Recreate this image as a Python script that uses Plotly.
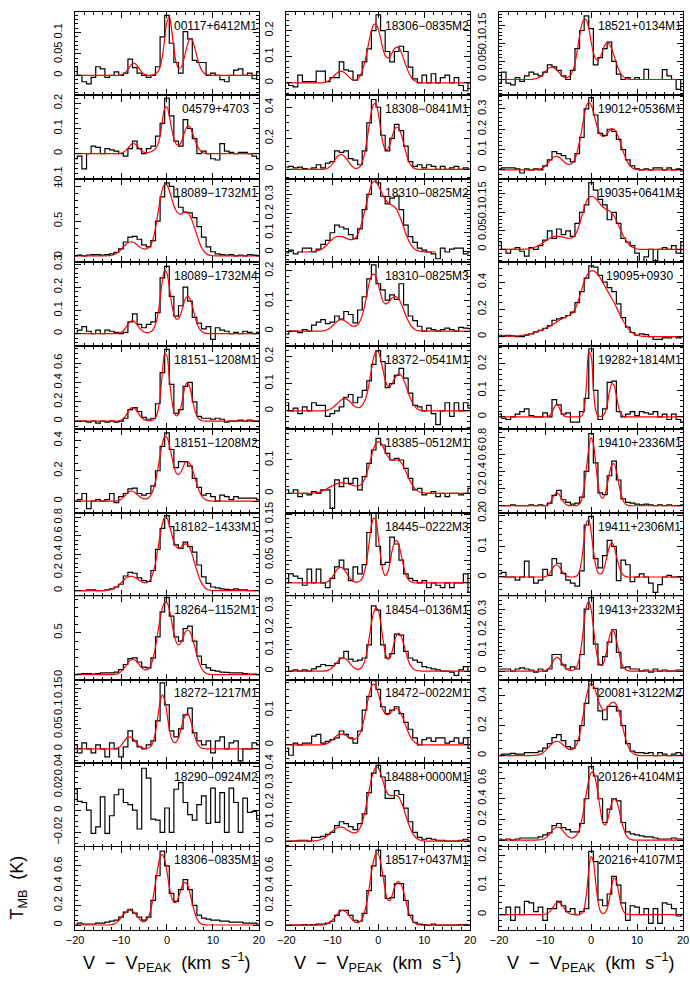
import plotly.graph_objects as go

# ---------------- velocity grids (km/s) ----------------
CHANNELS = [-20, -19, -18, -17, -16, -15, -14, -13, -12, -11, -10, -9, -8, -7, -6, -5, -4, -3, -2, -1,
            0, 1, 2, 3, 4, 5, 6, 7, 8, 9, 10, 11, 12, 13, 14, 15, 16, 17, 18, 19, 20]
FIT_VEL = [-20, -19.5, -19, -18.5, -18, -17.5, -17, -16.5, -16, -15.5,
           -15, -14.5, -14, -13.5, -13, -12.5, -12, -11.5, -11, -10.5,
           -10, -9.5, -9, -8.5, -8, -7.5, -7, -6.5, -6, -5.5,
           -5, -4.5, -4, -3.5, -3, -2.5, -2, -1.5, -1, -0.5,
           0, 0.5, 1, 1.5, 2, 2.5, 3, 3.5, 4, 4.5,
           5, 5.5, 6, 6.5, 7, 7.5, 8, 8.5, 9, 9.5,
           10, 10.5, 11, 11.5, 12, 12.5, 13, 13.5, 14, 14.5,
           15, 15.5, 16, 16.5, 17, 17.5, 18, 18.5, 19, 19.5,
           20]

# ---------------- source names ----------------
NAMES_COL1 = ["00117+6412M1", "04579+4703", "18089\u22121732M1", "18089\u22121732M4", "18151\u22121208M1",
              "18151\u22121208M2", "18182\u22121433M1", "18264\u22121152M1", "18272\u22121217M1",
              "18290\u22120924M2", "18306\u22120835M1"]
NAMES_COL2 = ["18306\u22120835M2", "18308\u22120841M1", "18310\u22120825M2", "18310\u22120825M3",
              "18372\u22120541M1", "18385\u22120512M1", "18445\u22120222M3", "18454\u22120136M1",
              "18472\u22120022M1", "18488+0000M1", "18517+0437M1"]
NAMES_COL3 = ["18521+0134M1", "19012+0536M1", "19035+0641M1", "19095+0930", "19282+1814M1",
              "19410+2336M1", "19411+2306M1", "19413+2332M1", "20081+3122M2", "20126+4104M1",
              "20216+4107M1"]

# ---------------- observed spectra (T_MB, K) at CHANNELS ----------------
H_00117 = [0.02, 0.0, -0.015, -0.02, -0.005, 0.02, 0.015, -0.005, 0.0, 0.008,
           0.0, 0.005, 0.038, 0.018, 0.005, 0.0, -0.005, 0.0, 0.02, 0.09,
           0.14, 0.075, 0.03, 0.005, 0.102, 0.085, 0.035, 0.03, 0.03, 0.0,
           0.005, 0.0, -0.01, -0.015, 0.0, 0.012, 0.015, 0.0, 0.005, -0.008, 0.008]
H_04579 = [-0.02, -0.01, -0.06, 0.0, 0.03, 0.025, 0.0, 0.02, 0.015, 0.01,
           0.0, -0.01, 0.02, 0.05, 0.02, 0.0, 0.02, 0.03, 0.07, 0.12,
           0.22, 0.15, 0.05, 0.03, 0.135, 0.1, 0.06, 0.0, 0.01, 0.0,
           -0.02, -0.025, 0.04, 0.01, 0.005, 0.0, 0.005, 0.005, 0.0, -0.01, -0.02]
H_18089M1 = [0.0, 0.01, 0.0, 0.01, 0.02, 0.02, 0.01, 0.02, 0.03, 0.05,
             0.1, 0.2, 0.27, 0.28, 0.24, 0.16, 0.13, 0.22, 0.5, 0.85,
             1.05, 1.0, 0.85, 0.7, 0.63, 0.62, 0.55, 0.42, 0.27, 0.13,
             0.06, 0.03, 0.02, 0.01, 0.02, 0.0, 0.01, 0.0, 0.02, 0.01, 0.0]
H_18089M4 = [0.0, 0.015, 0.03, 0.01, 0.0, 0.015, 0.0, 0.015, 0.01, 0.005,
             0.0, 0.005, 0.05, 0.085, 0.04, 0.025, 0.04, 0.05, 0.09, 0.24,
             0.29, 0.16, 0.075, 0.12, 0.2, 0.14, 0.07, 0.045, 0.02, 0.03,
             -0.025, 0.025, 0.015, 0.01, 0.0, 0.005, 0.0, 0.01, 0.005, 0.0, 0.005]
H_18151M1 = [0.0, 0.0, 0.0, -0.01, 0.0, -0.02, 0.0, -0.01, 0.0, -0.01,
             0.0, 0.03, 0.12, 0.14, 0.1, 0.04, 0.02, 0.03, 0.18, 0.5,
             0.74, 0.38, 0.08, 0.12, 0.36, 0.4, 0.2, 0.05, 0.03, 0.03,
             0.02, 0.03, 0.02, -0.01, 0.0, 0.0, 0.01, 0.0, 0.01, 0.0, 0.0]
H_18151M2 = [0.0, 0.01, 0.05, -0.05, 0.0, 0.01, 0.0, 0.01, 0.05, -0.01,
             0.03, 0.05, 0.08, 0.085, 0.05, 0.04, 0.05, 0.1, 0.2, 0.36,
             0.45, 0.34, 0.22, 0.26, 0.26, 0.23, 0.15, 0.09, 0.04, 0.05,
             0.03, 0.0, 0.04, 0.03, 0.01, 0.03, 0.02, 0.02, 0.02, 0.02, 0.01]
H_18182 = [0.0, 0.0, 0.0, 0.01, 0.01, 0.0, 0.0, 0.01, 0.02, 0.04,
           0.07, 0.16, 0.2, 0.19, 0.14, 0.11, 0.1, 0.22, 0.45, 0.68,
           0.82, 0.7, 0.5, 0.46, 0.53, 0.48, 0.42, 0.28, 0.15, 0.08,
           0.04, 0.03, 0.02, 0.015, 0.01, 0.02, 0.01, 0.01, 0.0, 0.0, 0.0]
H_18264 = [0.0, 0.005, 0.01, 0.01, 0.005, 0.01, 0.02, 0.02, 0.02, 0.03,
           0.06, 0.12, 0.19, 0.2, 0.15, 0.09, 0.08, 0.2, 0.45, 0.75,
           0.92, 0.7, 0.45, 0.4, 0.55, 0.58, 0.4, 0.22, 0.12, 0.08,
           0.05, 0.04, 0.03, 0.025, 0.02, 0.02, 0.02, 0.01, 0.005, 0.005, 0.0]
H_18272 = [0.01, -0.01, 0.015, 0.0, -0.01, 0.01, 0.0, -0.02, 0.015, 0.0,
           -0.02, 0.005, 0.045, 0.02, 0.005, 0.0, 0.01, 0.02, 0.07, 0.165,
           0.11, 0.045, 0.03, 0.05, 0.085, 0.102, 0.04, 0.02, 0.01, 0.02,
           -0.01, 0.02, 0.03, 0.0, 0.015, 0.02, -0.03, 0.0, 0.0, 0.015, 0.01]
H_18290 = [0.019, 0.008, 0.007, 0.0, -0.021, -0.015, 0.012, -0.021, -0.005, 0.014,
           0.019, 0.007, 0.005, 0.0, -0.017, 0.038, 0.029, -0.008, -0.009, -0.02,
           0.002, -0.02, 0.019, 0.025, 0.007, -0.004, -0.009, 0.005, 0.013, -0.012,
           0.02, -0.011, 0.016, -0.02, 0.02, 0.007, -0.02, 0.011, -0.002, -0.001, -0.008]
H_18306M1 = [0.0, 0.02, 0.01, 0.01, 0.01, 0.02, 0.02, 0.03, 0.04, 0.05,
             0.08, 0.13, 0.16, 0.12, 0.08, 0.05, 0.08, 0.25, 0.5, 0.75,
             0.6, 0.32, 0.24, 0.36, 0.46, 0.36, 0.2, 0.1, 0.07, 0.06,
             0.05, 0.05, 0.04, 0.04, 0.03, 0.03, 0.03, 0.02, 0.02, 0.02, 0.01]
H_18306M2 = [0.0, -0.01, -0.015, 0.03, 0.005, 0.005, 0.005, 0.045, 0.045, 0.005,
             0.02, 0.02, 0.08, 0.05, 0.045, 0.01, 0.03, 0.08, 0.13, 0.2,
             0.26, 0.2, 0.12, 0.08, 0.12, 0.14, 0.12, 0.06, 0.015, 0.0,
             0.03, 0.0, 0.035, 0.0, 0.02, 0.03, 0.0, 0.02, -0.01, -0.03, 0.0]
H_18308 = [0.015, 0.02, 0.01, 0.015, 0.005, 0.0, 0.01, 0.03, 0.01, 0.04,
           0.05, 0.12, 0.11, 0.12, 0.07, 0.06, 0.03, 0.12, 0.3, 0.45,
           0.4, 0.22, 0.12, 0.2, 0.29, 0.25, 0.15, 0.05, 0.02, 0.03,
           0.01, 0.03, 0.02, 0.0, 0.02, 0.0, 0.01, 0.02, 0.0, 0.01, 0.0]
H_18310M2 = [-0.005, 0.01, -0.01, 0.0, 0.02, 0.02, 0.0, 0.015, 0.04, 0.06,
             0.1, 0.14, 0.13, 0.12, 0.09, 0.07, 0.12, 0.22, 0.3, 0.38,
             0.36, 0.29, 0.25, 0.28, 0.29, 0.22, 0.14, 0.08, 0.05, 0.02,
             0.01, 0.0, -0.01, -0.035, 0.02, 0.0, 0.015, 0.02, 0.02, -0.01, 0.0]
H_18310M3 = [-0.01, 0.0, 0.0, -0.005, 0.005, 0.0, 0.02, 0.03, 0.038, 0.025,
             0.03, 0.05, 0.04, 0.065, 0.055, 0.027, 0.07, 0.114, 0.173, 0.22,
             0.157, 0.137, 0.103, 0.12, 0.105, 0.157, 0.087, 0.05, 0.035, 0.016,
             0.0, 0.01, 0.005, 0.0, 0.005, 0.01, 0.005, 0.0, 0.012, 0.01, 0.008]
H_18372 = [0.03, 0.0, 0.01, -0.01, 0.015, 0.0, 0.03, 0.02, 0.02, -0.02,
           -0.01, 0.0, 0.015, 0.05, 0.06, 0.03, 0.05, 0.075, 0.11, 0.17,
           0.22, 0.18, 0.085, 0.1, 0.13, 0.155, 0.12, 0.065, 0.02, 0.015,
           0.0, 0.02, -0.01, -0.05, 0.0, 0.03, -0.02, 0.03, 0.0, 0.03, 0.01]
H_18385 = [0.01, 0.0, 0.01, -0.01, 0.0, -0.005, 0.005, 0.0, 0.01, 0.01,
           -0.045, 0.04, 0.02, 0.045, 0.03, 0.045, 0.01, 0.05, 0.09, 0.13,
           0.165, 0.145, 0.12, 0.1, 0.105, 0.1, 0.075, 0.045, 0.01, 0.015,
           -0.005, 0.0, 0.005, -0.01, 0.0, -0.01, 0.0, 0.0, -0.005, 0.0, 0.015]
H_18445 = [0.0, 0.02, 0.015, 0.01, -0.005, 0.03, 0.0, 0.03, 0.0, -0.01,
           0.01, 0.035, 0.05, 0.03, 0.005, 0.035, 0.02, 0.04, 0.11, 0.155,
           0.08, 0.04, 0.045, 0.1, 0.085, 0.05, 0.02, 0.01, 0.005, 0.0,
           0.005, -0.01, 0.0, -0.005, -0.01, 0.0, -0.01, 0.0, 0.0, 0.02, -0.02]
H_18454 = [0.02, 0.0, 0.005, 0.0, 0.005, 0.0, 0.01, 0.02, 0.03, 0.025,
           0.025, 0.035, 0.06, 0.09, 0.055, 0.045, 0.05, 0.06, 0.12, 0.3,
           0.28, 0.12, 0.06, 0.08, 0.17, 0.165, 0.09, 0.06, 0.05, 0.04,
           0.02, 0.015, 0.01, 0.005, 0.0, 0.0, -0.005, -0.02, 0.005, 0.02, 0.0]
H_18472 = [-0.01, -0.03, 0.005, 0.0, 0.005, 0.005, 0.025, 0.03, 0.005, 0.01,
           0.015, 0.02, 0.04, 0.03, 0.02, 0.005, 0.04, 0.1, 0.14, 0.185,
           0.16, 0.11, 0.09, 0.1, 0.11, 0.09, 0.065, 0.045, 0.02, 0.0,
           0.015, 0.02, 0.01, 0.02, 0.02, 0.005, 0.01, 0.02, 0.005, 0.02, -0.01]
H_18488 = [0.0, 0.0, 0.0, 0.005, 0.005, 0.0, 0.02, 0.02, 0.025, 0.035,
           0.045, 0.08, 0.1, 0.09, 0.075, 0.06, 0.09, 0.14, 0.25, 0.35,
           0.39, 0.33, 0.22, 0.22, 0.26, 0.24, 0.17, 0.1, 0.045, 0.02,
           0.01, 0.015, 0.01, 0.005, 0.005, 0.0, 0.0, 0.0, 0.005, 0.01, 0.0]
H_18517 = [0.0, 0.0, 0.0, 0.0, 0.005, 0.0, 0.005, 0.01, 0.01, 0.02,
           0.04, 0.1, 0.15, 0.15, 0.1, 0.05, 0.04, 0.12, 0.35, 0.6,
           0.76, 0.5, 0.27, 0.28, 0.42, 0.42, 0.25, 0.1, 0.03, 0.01,
           0.005, 0.0, 0.01, 0.0, 0.0, 0.0, 0.0, 0.0, 0.005, 0.005, 0.0]
H_18521 = [-0.01, 0.02, -0.01, -0.015, 0.005, -0.005, 0.01, 0.02, 0.015, 0.01,
           0.02, 0.04, 0.035, 0.025, 0.01, 0.0, 0.025, 0.085, 0.135, 0.175,
           0.14, 0.04, 0.06, 0.085, 0.103, 0.05, 0.015, 0.0, 0.005, 0.0,
           0.005, 0.0, 0.028, 0.0, 0.0, 0.0, 0.027, 0.01, 0.0, -0.027, 0.0]
H_19012 = [0.005, 0.01, 0.01, 0.01, 0.005, -0.015, 0.005, 0.0, 0.005, 0.0,
           0.02, 0.05, 0.09, 0.08, 0.07, 0.055, 0.04, 0.08, 0.16, 0.3,
           0.355, 0.27, 0.18, 0.17, 0.2, 0.19, 0.15, 0.1, 0.05, 0.02,
           0.005, 0.0, 0.005, 0.0, 0.01, 0.01, 0.0, 0.01, 0.0, 0.005, -0.005]
H_19035 = [0.02, 0.0, -0.01, 0.0, 0.005, -0.005, -0.018, 0.005, 0.0, 0.01,
           0.025, 0.05, 0.03, 0.055, 0.04, 0.05, 0.035, 0.07, 0.1, 0.12,
           0.18, 0.16, 0.135, 0.12, 0.08, 0.1, 0.07, 0.03, 0.02, 0.01,
           -0.01, -0.035, -0.02, 0.0, -0.03, 0.0, 0.005, 0.0, 0.01, -0.01, 0.02]
H_19095 = [0.01, 0.005, 0.01, 0.005, 0.0, 0.0, 0.01, 0.02, 0.035, 0.045,
           0.06, 0.08, 0.12, 0.13, 0.14, 0.155, 0.18, 0.25, 0.33, 0.43,
           0.52, 0.51, 0.45, 0.4, 0.36, 0.33, 0.24, 0.14, 0.07, 0.03,
           0.01, 0.02, 0.015, 0.0, -0.02, -0.02, -0.01, -0.01, 0.0, -0.01, 0.0]
H_19282 = [0.01, -0.005, -0.01, 0.0, 0.01, 0.02, 0.03, 0.005, 0.0, 0.0,
           0.015, 0.0, 0.065, 0.045, 0.01, 0.015, -0.02, -0.02, 0.02, 0.07,
           0.257, 0.1, -0.01, 0.03, 0.13, 0.135, 0.02, 0.0, 0.01, 0.02,
           0.005, 0.02, 0.015, 0.01, 0.02, 0.0, 0.01, -0.01, 0.01, -0.01, -0.02]
H_19410 = [0.0, 0.0, 0.0, 0.01, 0.0, 0.0, 0.0, 0.01, 0.0, 0.01,
           0.0, 0.03, 0.12, 0.18, 0.07, 0.04, 0.02, 0.03, 0.1, 0.4,
           0.84, 0.5, 0.15, 0.13, 0.35, 0.52, 0.3, 0.08, 0.04, 0.03,
           0.02, 0.01, 0.02, 0.01, 0.0, 0.01, 0.0, 0.01, 0.0, 0.0, 0.01]
H_19411 = [0.01, 0.015, 0.0, 0.0, -0.01, 0.0, 0.052, 0.0, -0.02, -0.01,
           0.025, 0.005, 0.06, 0.045, 0.012, -0.01, -0.02, -0.03, 0.02, 0.17,
           0.198, 0.06, 0.03, 0.07, 0.12, 0.1, -0.012, 0.055, 0.04, -0.015,
           0.0, 0.01, 0.0, -0.02, -0.05, -0.025, 0.0, 0.005, 0.0, 0.0, -0.01]
H_19413 = [0.01, 0.01, 0.01, 0.0, 0.01, 0.015, 0.01, 0.005, -0.005, 0.01,
           0.0, 0.01, 0.08, 0.08, 0.03, 0.01, 0.02, 0.01, 0.08, 0.3,
           0.355, 0.13, 0.03, 0.07, 0.14, 0.2, 0.09, 0.015, 0.02, 0.01,
           0.01, 0.0, 0.005, -0.005, 0.01, 0.0, 0.005, 0.0, 0.0, 0.005, 0.005]
H_20081 = [0.0, 0.01, 0.01, 0.015, 0.01, 0.01, 0.02, 0.02, 0.02, 0.03,
           0.05, 0.08, 0.12, 0.14, 0.1, 0.06, 0.05, 0.1, 0.2, 0.35,
           0.5, 0.45, 0.3, 0.24, 0.33, 0.33, 0.3, 0.2, 0.08, 0.03,
           0.02, 0.02, 0.015, 0.02, 0.0, 0.02, 0.01, 0.0, 0.01, 0.02, 0.01]
H_20126 = [0.01, 0.0, 0.01, 0.0, 0.01, 0.02, 0.02, 0.02, 0.02, 0.03,
           0.05, 0.07, 0.14, 0.16, 0.12, 0.1, 0.08, 0.08, 0.16, 0.4,
           0.71, 0.62, 0.4, 0.17, 0.3, 0.4, 0.38, 0.17, 0.08, 0.06,
           0.05, 0.04, 0.03, 0.03, 0.02, 0.01, 0.01, 0.01, 0.02, 0.01, 0.01]
H_20216 = [0.0, 0.0, 0.025, -0.02, 0.025, 0.0, 0.045, 0.04, 0.01, 0.025,
           -0.02, 0.02, 0.02, 0.045, 0.03, 0.01, 0.02, 0.0, 0.01, 0.02,
           0.215, 0.18, 0.05, 0.03, 0.07, 0.13, 0.1, 0.04, -0.02, 0.03,
           0.025, 0.0, 0.02, -0.03, 0.02, -0.03, 0.04, 0.035, 0.02, -0.005, 0.0]

# ---------------- hyperfine fits (T_MB, K) at FIT_VEL ----------------
F_00117 = [0, 0, 0, 0, 0, 0, 0, 0, 0, 0,
           0, 0, 0, 0, 0, 0, 0, 0, 0, 0,
           0.001, 0.003, 0.007, 0.014, 0.022, 0.027, 0.028, 0.023, 0.015, 0.008,
           0.003, 0.001, 0, 0, 0.001, 0.003, 0.008, 0.02, 0.045, 0.085,
           0.125, 0.137, 0.108, 0.062, 0.03, 0.017, 0.018, 0.03, 0.052, 0.073,
           0.085, 0.082, 0.066, 0.045, 0.026, 0.013, 0.006, 0.002, 0.001, 0,
           0, 0, 0, 0, 0, 0, 0, 0, 0, 0,
           0, 0, 0, 0, 0, 0, 0, 0, 0, 0,
           0]
F_04579 = [0, 0, 0, 0, 0, 0, 0, 0, 0, 0,
           0, 0, 0, 0, 0, 0, 0, 0, 0, 0,
           0.002, 0.005, 0.012, 0.022, 0.033, 0.04, 0.039, 0.031, 0.02, 0.011,
           0.006, 0.004, 0.005, 0.008, 0.013, 0.02, 0.035, 0.07, 0.13, 0.18,
           0.185, 0.15, 0.1, 0.06, 0.038, 0.032, 0.042, 0.067, 0.095, 0.11,
           0.105, 0.085, 0.058, 0.035, 0.018, 0.008, 0.003, 0.001, 0, 0,
           0, 0, 0, 0, 0, 0, 0, 0, 0, 0,
           0, 0, 0, 0, 0, 0, 0, 0, 0, 0,
           0]
F_18089M1 = [0, 0, 0, 0, 0, 0, 0, 0, 0, 0,
             0, 0, 0, 0, 0.002, 0.005, 0.01, 0.02, 0.035, 0.06,
             0.09, 0.13, 0.165, 0.19, 0.2, 0.2, 0.185, 0.16, 0.13, 0.11,
             0.1, 0.1, 0.12, 0.16, 0.25, 0.4, 0.6, 0.8, 0.96, 1.03,
             1.02, 0.94, 0.83, 0.72, 0.65, 0.61, 0.6, 0.62, 0.63, 0.62,
             0.58, 0.5, 0.4, 0.3, 0.2, 0.12, 0.07, 0.035, 0.015, 0.006,
             0.002, 0, 0, 0, 0, 0, 0, 0, 0, 0,
             0, 0, 0, 0, 0, 0, 0, 0, 0, 0,
             0]
F_18089M4 = [0, 0, 0, 0, 0, 0, 0, 0, 0, 0,
             0, 0, 0, 0, 0, 0, 0, 0, 0, 0.002,
             0.005, 0.012, 0.025, 0.04, 0.052, 0.055, 0.05, 0.038, 0.025, 0.014,
             0.007, 0.004, 0.004, 0.008, 0.018, 0.04, 0.08, 0.15, 0.23, 0.275,
             0.26, 0.2, 0.13, 0.085, 0.063, 0.065, 0.085, 0.12, 0.15, 0.16,
             0.15, 0.12, 0.08, 0.045, 0.022, 0.01, 0.004, 0.001, 0, 0,
             0, 0, 0, 0, 0, 0, 0, 0, 0, 0,
             0, 0, 0, 0, 0, 0, 0, 0, 0, 0,
             0]
F_18151M1 = [0, 0, 0, 0, 0, 0, 0, 0, 0, 0,
             0, 0, 0, 0, 0, 0, 0, 0, 0, 0.003,
             0.01, 0.025, 0.055, 0.095, 0.13, 0.14, 0.13, 0.1, 0.065, 0.035,
             0.016, 0.007, 0.004, 0.005, 0.012, 0.035, 0.1, 0.25, 0.5, 0.7,
             0.67, 0.45, 0.23, 0.1, 0.055, 0.07, 0.14, 0.26, 0.37, 0.4,
             0.34, 0.23, 0.12, 0.055, 0.02, 0.007, 0.002, 0, 0, 0,
             0, 0, 0, 0, 0, 0, 0, 0, 0, 0,
             0, 0, 0, 0, 0, 0, 0, 0, 0, 0,
             0]
F_18151M2 = [0, 0, 0, 0, 0, 0, 0, 0, 0, 0,
             0, 0, 0, 0, 0, 0, 0, 0, 0.002, 0.005,
             0.012, 0.025, 0.042, 0.058, 0.066, 0.065, 0.057, 0.043, 0.03, 0.02,
             0.015, 0.015, 0.022, 0.04, 0.075, 0.13, 0.21, 0.3, 0.38, 0.425,
             0.42, 0.37, 0.3, 0.23, 0.185, 0.175, 0.19, 0.225, 0.255, 0.26,
             0.245, 0.21, 0.16, 0.11, 0.068, 0.038, 0.018, 0.008, 0.003, 0.001,
             0, 0, 0, 0, 0, 0, 0, 0, 0, 0,
             0, 0, 0, 0, 0, 0, 0, 0, 0, 0,
             0]
F_18182 = [0, 0, 0, 0, 0, 0, 0, 0, 0, 0,
           0, 0, 0, 0.002, 0.004, 0.008, 0.015, 0.025, 0.04, 0.06,
           0.085, 0.11, 0.135, 0.15, 0.157, 0.155, 0.145, 0.13, 0.11, 0.095,
           0.087, 0.087, 0.1, 0.13, 0.2, 0.3, 0.45, 0.6, 0.73, 0.8,
           0.79, 0.72, 0.62, 0.53, 0.48, 0.46, 0.47, 0.5, 0.51, 0.5,
           0.46, 0.39, 0.3, 0.22, 0.14, 0.085, 0.045, 0.022, 0.01, 0.004,
           0.001, 0, 0, 0, 0, 0, 0, 0, 0, 0,
           0, 0, 0, 0, 0, 0, 0, 0, 0, 0,
           0]
F_18264 = [0, 0, 0, 0, 0, 0, 0, 0, 0, 0,
           0, 0, 0, 0, 0, 0, 0, 0.002, 0.006, 0.015,
           0.035, 0.065, 0.1, 0.14, 0.17, 0.18, 0.175, 0.15, 0.115, 0.08,
           0.06, 0.055, 0.07, 0.11, 0.2, 0.33, 0.5, 0.67, 0.8, 0.86,
           0.86, 0.78, 0.64, 0.49, 0.39, 0.355, 0.38, 0.44, 0.51, 0.53,
           0.51, 0.44, 0.34, 0.23, 0.14, 0.075, 0.035, 0.015, 0.005, 0.002,
           0, 0, 0, 0, 0, 0, 0, 0, 0, 0,
           0, 0, 0, 0, 0, 0, 0, 0, 0, 0,
           0]
F_18272 = [0, 0, 0, 0, 0, 0, 0, 0, 0, 0,
           0, 0, 0, 0, 0, 0, 0, 0, 0.001, 0.003,
           0.008, 0.016, 0.024, 0.029, 0.03, 0.027, 0.02, 0.012, 0.006, 0.003,
           0.001, 0.001, 0.002, 0.006, 0.017, 0.042, 0.08, 0.118, 0.135, 0.122,
           0.088, 0.05, 0.025, 0.016, 0.017, 0.028, 0.048, 0.07, 0.085, 0.088,
           0.076, 0.055, 0.033, 0.016, 0.007, 0.002, 0.001, 0, 0, 0,
           0, 0, 0, 0, 0, 0, 0, 0, 0, 0,
           0, 0, 0, 0, 0, 0, 0, 0, 0, 0,
           0]
F_18290 = None
F_18306M1 = [0, 0, 0, 0, 0, 0, 0, 0, 0, 0,
             0, 0, 0, 0, 0, 0.002, 0.005, 0.012, 0.025, 0.045,
             0.075, 0.105, 0.13, 0.147, 0.15, 0.14, 0.12, 0.09, 0.06, 0.038,
             0.033, 0.045, 0.085, 0.16, 0.28, 0.43, 0.58, 0.69, 0.715, 0.66,
             0.54, 0.39, 0.28, 0.23, 0.23, 0.28, 0.36, 0.42, 0.433, 0.4,
             0.32, 0.22, 0.13, 0.065, 0.028, 0.01, 0.003, 0.001, 0, 0,
             0, 0, 0, 0, 0, 0, 0, 0, 0, 0,
             0, 0, 0, 0, 0, 0, 0, 0, 0, 0,
             0]
F_18306M2 = [0, 0, 0, 0, 0, 0, 0, 0, 0, 0,
             0, 0, 0, 0, 0, 0, 0.001, 0.003, 0.006, 0.012,
             0.02, 0.029, 0.037, 0.043, 0.044, 0.041, 0.034, 0.025, 0.017, 0.012,
             0.011, 0.015, 0.025, 0.045, 0.075, 0.115, 0.16, 0.2, 0.222, 0.225,
             0.205, 0.17, 0.13, 0.105, 0.095, 0.1, 0.115, 0.13, 0.137, 0.133,
             0.117, 0.093, 0.067, 0.044, 0.026, 0.014, 0.007, 0.003, 0.001, 0,
             0, 0, 0, 0, 0, 0, 0, 0, 0, 0,
             0, 0, 0, 0, 0, 0, 0, 0, 0, 0,
             0]
F_18308 = [0, 0, 0, 0, 0, 0, 0, 0, 0, 0,
           0, 0, 0, 0, 0, 0, 0.001, 0.003, 0.008, 0.018,
           0.035, 0.058, 0.08, 0.093, 0.095, 0.088, 0.072, 0.051, 0.031, 0.015,
           0.007, 0.008, 0.018, 0.045, 0.1, 0.18, 0.28, 0.37, 0.42, 0.42,
           0.36, 0.26, 0.17, 0.13, 0.13, 0.16, 0.21, 0.255, 0.273, 0.262,
           0.225, 0.17, 0.11, 0.062, 0.03, 0.013, 0.005, 0.002, 0, 0,
           0, 0, 0, 0, 0, 0, 0, 0, 0, 0,
           0, 0, 0, 0, 0, 0, 0, 0, 0, 0,
           0]
F_18310M2 = [None, None, None, None, None, None, None, 0, 0, 0,
             0.001, 0.002, 0.003, 0.005, 0.008, 0.013, 0.02, 0.03, 0.042, 0.055,
             0.066, 0.075, 0.08, 0.081, 0.08, 0.077, 0.072, 0.067, 0.064, 0.065,
             0.073, 0.09, 0.12, 0.16, 0.21, 0.26, 0.31, 0.35, 0.368, 0.365,
             0.345, 0.32, 0.295, 0.275, 0.26, 0.25, 0.243, 0.235, 0.22, 0.195,
             0.165, 0.13, 0.095, 0.065, 0.042, 0.025, 0.014, 0.007, 0.004, 0.002,
             0.001, 0, 0, 0, 0, 0, None, None, None, None,
             None, None, None, None, None, None, None, None, None, None,
             None]
F_18310M3 = [0, 0, 0, 0, 0, 0, 0, 0, 0, 0,
             0, 0, 0, 0, 0, 0, 0.001, 0.002, 0.005, 0.01,
             0.017, 0.025, 0.032, 0.037, 0.038, 0.036, 0.031, 0.025, 0.019, 0.016,
             0.016, 0.021, 0.032, 0.052, 0.082, 0.12, 0.158, 0.183, 0.19, 0.18,
             0.155, 0.125, 0.1, 0.091, 0.092, 0.1, 0.11, 0.114, 0.113, 0.105,
             0.09, 0.071, 0.051, 0.034, 0.02, 0.011, 0.005, 0.002, 0.001, 0,
             0, 0, 0, 0, 0, 0, 0, 0, 0, 0,
             0, 0, 0, 0, 0, 0, 0, 0, 0, 0,
             0]
F_18372 = [0, 0, 0, 0, 0, 0, 0, 0, 0, 0,
           0, 0, 0, 0, 0, 0, 0, 0.001, 0.003, 0.006,
           0.011, 0.018, 0.026, 0.034, 0.041, 0.045, 0.044, 0.039, 0.031, 0.022,
           0.015, 0.012, 0.013, 0.02, 0.035, 0.06, 0.1, 0.15, 0.195, 0.218,
           0.215, 0.19, 0.15, 0.113, 0.092, 0.089, 0.1, 0.117, 0.13, 0.134,
           0.13, 0.115, 0.093, 0.068, 0.045, 0.027, 0.015, 0.007, 0.003, 0.001,
           0, 0, 0, 0, 0, 0, 0, 0, 0, 0,
           0, 0, 0, 0, 0, 0, 0, 0, 0, 0,
           0]
F_18385 = [0, 0, 0, 0, 0, 0, 0, 0, 0, 0,
           0, 0, 0.001, 0.002, 0.003, 0.005, 0.008, 0.011, 0.015, 0.019,
           0.023, 0.026, 0.029, 0.031, 0.031, 0.031, 0.03, 0.028, 0.026, 0.024,
           0.022, 0.022, 0.024, 0.03, 0.042, 0.06, 0.085, 0.11, 0.135, 0.15,
           0.155, 0.152, 0.14, 0.126, 0.112, 0.104, 0.1, 0.1, 0.1, 0.098,
           0.092, 0.08, 0.065, 0.049, 0.035, 0.023, 0.014, 0.008, 0.004, 0.002,
           0.001, 0, 0, 0, 0, 0, 0, 0, 0, 0,
           0, 0, 0, 0, 0, 0, 0, 0, 0, 0,
           0]
F_18445 = [0, 0, 0, 0, 0, 0, 0, 0, 0, 0,
           0, 0, 0, 0, 0, 0, 0, 0.001, 0.003, 0.007,
           0.013, 0.021, 0.029, 0.033, 0.034, 0.03, 0.023, 0.015, 0.008, 0.004,
           0.002, 0.002, 0.004, 0.01, 0.025, 0.05, 0.087, 0.125, 0.142, 0.135,
           0.1, 0.058, 0.027, 0.016, 0.022, 0.042, 0.07, 0.088, 0.093, 0.082,
           0.06, 0.036, 0.018, 0.008, 0.003, 0.001, 0, 0, 0, 0,
           0, 0, 0, 0, 0, 0, 0, 0, 0, 0,
           0, 0, 0, 0, 0, 0, 0, 0, 0, 0,
           0]
F_18454 = [0, 0, 0, 0, 0, 0, 0, 0, 0, 0,
           0, 0, 0, 0, 0, 0, 0, 0.001, 0.003, 0.008,
           0.016, 0.027, 0.04, 0.052, 0.059, 0.06, 0.055, 0.044, 0.031, 0.019,
           0.011, 0.008, 0.01, 0.02, 0.042, 0.085, 0.15, 0.22, 0.27, 0.292,
           0.28, 0.225, 0.15, 0.085, 0.055, 0.06, 0.09, 0.135, 0.166, 0.173,
           0.158, 0.125, 0.085, 0.05, 0.026, 0.012, 0.005, 0.002, 0.001, 0,
           0, 0, 0, 0, 0, 0, 0, 0, 0, 0,
           0, 0, 0, 0, 0, 0, 0, 0, 0, 0,
           0]
F_18472 = [0, 0, 0, 0, 0, 0, 0, 0, 0, 0,
           0, 0, 0, 0, 0, 0, 0.001, 0.002, 0.005, 0.009,
           0.015, 0.021, 0.027, 0.03, 0.031, 0.03, 0.027, 0.022, 0.018, 0.016,
           0.017, 0.022, 0.033, 0.052, 0.08, 0.113, 0.145, 0.168, 0.176, 0.168,
           0.148, 0.123, 0.102, 0.09, 0.087, 0.09, 0.098, 0.104, 0.105, 0.1,
           0.088, 0.072, 0.054, 0.037, 0.023, 0.013, 0.007, 0.003, 0.001, 0,
           0, 0, 0, 0, 0, 0, 0, 0, 0, 0,
           0, 0, 0, 0, 0, 0, 0, 0, 0, 0,
           0]
F_18488 = [0, 0, 0, 0, 0, 0, 0, 0, 0, 0,
           0, 0.001, 0.002, 0.003, 0.005, 0.008, 0.013, 0.02, 0.029, 0.04,
           0.051, 0.061, 0.068, 0.072, 0.072, 0.069, 0.062, 0.054, 0.047, 0.043,
           0.043, 0.05, 0.067, 0.095, 0.14, 0.2, 0.26, 0.32, 0.36, 0.38,
           0.378, 0.35, 0.31, 0.27, 0.245, 0.235, 0.234, 0.236, 0.235, 0.225,
           0.2, 0.17, 0.13, 0.095, 0.064, 0.04, 0.023, 0.012, 0.006, 0.003,
           0.001, 0, 0, 0, 0, 0, 0, 0, 0, 0,
           0, 0, 0, 0, 0, 0, 0, 0, 0, 0,
           0]
F_18517 = [0, 0, 0, 0, 0, 0, 0, 0, 0, 0,
           0, 0, 0, 0, 0, 0.001, 0.003, 0.007, 0.015, 0.03,
           0.05, 0.078, 0.108, 0.135, 0.148, 0.147, 0.132, 0.105, 0.075, 0.048,
           0.031, 0.026, 0.035, 0.065, 0.13, 0.23, 0.37, 0.53, 0.66, 0.725,
           0.72, 0.64, 0.5, 0.36, 0.26, 0.25, 0.3, 0.38, 0.43, 0.44,
           0.41, 0.34, 0.24, 0.15, 0.085, 0.043, 0.019, 0.008, 0.003, 0.001,
           0, 0, 0, 0, 0, 0, 0, 0, 0, 0,
           0, 0, 0, 0, 0, 0, 0, 0, 0, 0,
           0]
F_18521 = [0, 0, 0, 0, 0, 0, 0, 0, 0, 0,
           0, 0, 0, 0, 0, 0.001, 0.002, 0.004, 0.008, 0.014,
           0.021, 0.028, 0.033, 0.034, 0.032, 0.027, 0.02, 0.013, 0.007, 0.005,
           0.006, 0.011, 0.023, 0.045, 0.08, 0.12, 0.152, 0.166, 0.163, 0.14,
           0.105, 0.074, 0.057, 0.054, 0.062, 0.078, 0.094, 0.1, 0.097, 0.084,
           0.065, 0.045, 0.028, 0.015, 0.008, 0.003, 0.001, 0, 0, 0,
           0, 0, 0, 0, 0, 0, 0, 0, 0, 0,
           0, 0, 0, 0, 0, 0, 0, 0, 0, 0,
           0]
F_19012 = [0, 0, 0, 0, 0, 0, 0, 0, 0, 0,
           0, 0, 0, 0, 0, 0, 0.001, 0.002, 0.005, 0.01,
           0.019, 0.031, 0.045, 0.057, 0.065, 0.067, 0.063, 0.054, 0.043, 0.033,
           0.028, 0.028, 0.035, 0.055, 0.09, 0.14, 0.2, 0.265, 0.315, 0.332,
           0.32, 0.285, 0.24, 0.2, 0.175, 0.165, 0.166, 0.178, 0.193, 0.203,
           0.2, 0.185, 0.158, 0.125, 0.09, 0.06, 0.036, 0.02, 0.01, 0.005,
           0.002, 0.001, 0, 0, 0, 0, 0, 0, 0, 0,
           0, 0, 0, 0, 0, 0, 0, 0, 0, 0,
           0]
F_19035 = [0, 0, 0, 0, 0, 0, 0, 0, 0, 0,
           0, 0.001, 0.001, 0.002, 0.003, 0.005, 0.007, 0.01, 0.014, 0.018,
           0.022, 0.026, 0.03, 0.033, 0.035, 0.035, 0.035, 0.034, 0.033, 0.031,
           0.03, 0.03, 0.032, 0.038, 0.05, 0.068, 0.09, 0.112, 0.13, 0.14,
           0.143, 0.142, 0.137, 0.13, 0.122, 0.115, 0.11, 0.107, 0.104, 0.098,
           0.09, 0.078, 0.064, 0.05, 0.037, 0.026, 0.017, 0.01, 0.006, 0.003,
           0.001, 0, 0, 0, 0, 0, 0, 0, 0, 0,
           0, 0, 0, 0, 0, 0, 0, 0, 0, 0,
           0]
F_19095 = [0, 0, 0, 0.001, 0.001, 0.002, 0.003, 0.004, 0.005, 0.007,
           0.009, 0.012, 0.015, 0.019, 0.023, 0.028, 0.033, 0.039, 0.045, 0.052,
           0.06, 0.068, 0.077, 0.087, 0.097, 0.108, 0.118, 0.128, 0.137, 0.145,
           0.153, 0.163, 0.177, 0.2, 0.24, 0.295, 0.35, 0.405, 0.445, 0.472,
           0.483, 0.483, 0.473, 0.455, 0.43, 0.4, 0.37, 0.34, 0.31, 0.28,
           0.25, 0.215, 0.18, 0.147, 0.115, 0.087, 0.063, 0.043, 0.028, 0.018,
           0.011, 0.006, 0.003, 0.002, 0.001, 0, 0, 0, 0, 0,
           0, 0, 0, 0, 0, 0, 0, 0, 0, 0,
           0]
F_19282 = [0, 0, 0, 0, 0, 0, 0, 0, 0, 0,
           0, 0, 0, 0, 0, 0, 0, 0, 0, 0,
           0, 0.001, 0.005, 0.017, 0.036, 0.047, 0.037, 0.018, 0.005, 0.001,
           0, 0, 0, 0, 0, 0.001, 0.004, 0.03, 0.12, 0.245,
           0.23, 0.11, 0.025, 0.004, 0.002, 0.004, 0.015, 0.046, 0.094, 0.125,
           0.12, 0.08, 0.036, 0.011, 0.002, 0, 0, 0, 0, 0,
           0, 0, 0, 0, 0, 0, 0, 0, 0, 0,
           0, 0, 0, 0, 0, 0, 0, 0, 0, 0,
           0]
F_19410 = [0, 0, 0, 0, 0, 0, 0, 0, 0, 0,
           0, 0, 0, 0, 0, 0, 0, 0, 0, 0,
           0.002, 0.008, 0.03, 0.075, 0.125, 0.15, 0.135, 0.09, 0.045, 0.016,
           0.004, 0.001, 0, 0.001, 0.005, 0.022, 0.08, 0.22, 0.44, 0.67,
           0.795, 0.72, 0.5, 0.26, 0.12, 0.085, 0.13, 0.24, 0.38, 0.475,
           0.49, 0.41, 0.27, 0.14, 0.058, 0.019, 0.005, 0.001, 0, 0,
           0, 0, 0, 0, 0, 0, 0, 0, 0, 0,
           0, 0, 0, 0, 0, 0, 0, 0, 0, 0,
           0]
F_19411 = [0, 0, 0, 0, 0, 0, 0, 0, 0, 0,
           0, 0, 0, 0, 0, 0, 0, 0, 0, 0,
           0.001, 0.004, 0.012, 0.025, 0.036, 0.04, 0.035, 0.024, 0.012, 0.005,
           0.001, 0, 0, 0.001, 0.005, 0.02, 0.06, 0.125, 0.178, 0.188,
           0.148, 0.088, 0.038, 0.014, 0.009, 0.016, 0.038, 0.07, 0.1, 0.112,
           0.1, 0.07, 0.039, 0.017, 0.006, 0.002, 0, 0, 0, 0,
           0, 0, 0, 0, 0, 0, 0, 0, 0, 0,
           0, 0, 0, 0, 0, 0, 0, 0, 0, 0,
           0]
F_19413 = [0, 0, 0, 0, 0, 0, 0, 0, 0, 0,
           0, 0, 0, 0, 0, 0, 0, 0, 0, 0,
           0.002, 0.007, 0.018, 0.037, 0.056, 0.066, 0.062, 0.046, 0.027, 0.012,
           0.005, 0.003, 0.004, 0.01, 0.026, 0.065, 0.14, 0.24, 0.315, 0.336,
           0.3, 0.215, 0.12, 0.055, 0.029, 0.03, 0.06, 0.11, 0.165, 0.195,
           0.19, 0.15, 0.095, 0.048, 0.02, 0.007, 0.002, 0, 0, 0,
           0, 0, 0, 0, 0, 0, 0, 0, 0, 0,
           0, 0, 0, 0, 0, 0, 0, 0, 0, 0,
           0]
F_20081 = [0, 0, 0, 0, 0, 0, 0, 0, 0, 0,
           0, 0, 0, 0, 0, 0.001, 0.002, 0.005, 0.01, 0.018,
           0.03, 0.046, 0.063, 0.08, 0.092, 0.096, 0.093, 0.083, 0.069, 0.055,
           0.045, 0.04, 0.042, 0.055, 0.085, 0.14, 0.22, 0.31, 0.4, 0.46,
           0.482, 0.47, 0.43, 0.38, 0.335, 0.31, 0.305, 0.318, 0.34, 0.355,
           0.358, 0.34, 0.3, 0.24, 0.175, 0.115, 0.068, 0.037, 0.018, 0.008,
           0.003, 0.001, 0, 0, 0, 0, 0, 0, 0, 0,
           0, 0, 0, 0, 0, 0, 0, 0, 0, 0,
           0]
F_20126 = [0, 0, 0, 0, 0, 0, 0, 0, 0, 0,
           0, 0, 0, 0, 0, 0, 0, 0.001, 0.003, 0.008,
           0.018, 0.035, 0.06, 0.088, 0.112, 0.125, 0.124, 0.108, 0.083, 0.056,
           0.034, 0.022, 0.021, 0.032, 0.06, 0.11, 0.2, 0.32, 0.46, 0.58,
           0.65, 0.655, 0.58, 0.45, 0.3, 0.18, 0.145, 0.18, 0.27, 0.36,
           0.395, 0.38, 0.31, 0.21, 0.12, 0.058, 0.024, 0.008, 0.002, 0,
           0, 0, 0, 0, 0, 0, 0, 0, 0, 0,
           0, 0, 0, 0, 0, 0, 0, 0, 0, 0,
           0]
F_20216 = [0, 0, 0, 0, 0, 0, 0, 0, 0, 0,
           0, 0, 0, 0, 0, 0, 0, 0, 0, 0,
           0.001, 0.004, 0.01, 0.02, 0.032, 0.04, 0.042, 0.036, 0.025, 0.014,
           0.006, 0.002, 0.001, 0, 0, 0.001, 0.004, 0.02, 0.07, 0.15,
           0.197, 0.18, 0.11, 0.045, 0.012, 0.004, 0.006, 0.02, 0.055, 0.1,
           0.125, 0.115, 0.075, 0.035, 0.012, 0.003, 0.001, 0, 0, 0,
           0, 0, 0, 0, 0, 0, 0, 0, 0, 0,
           0, 0, 0, 0, 0, 0, 0, 0, 0, 0,
           0]

HIST_COL1 = [H_00117, H_04579, H_18089M1, H_18089M4, H_18151M1, H_18151M2, H_18182, H_18264, H_18272, H_18290, H_18306M1]
HIST_COL2 = [H_18306M2, H_18308, H_18310M2, H_18310M3, H_18372, H_18385, H_18445, H_18454, H_18472, H_18488, H_18517]
HIST_COL3 = [H_18521, H_19012, H_19035, H_19095, H_19282, H_19410, H_19411, H_19413, H_20081, H_20126, H_20216]
FIT_COL1 = [F_00117, F_04579, F_18089M1, F_18089M4, F_18151M1, F_18151M2, F_18182, F_18264, F_18272, F_18290, F_18306M1]
FIT_COL2 = [F_18306M2, F_18308, F_18310M2, F_18310M3, F_18372, F_18385, F_18445, F_18454, F_18472, F_18488, F_18517]
FIT_COL3 = [F_18521, F_19012, F_19035, F_19095, F_19282, F_19410, F_19411, F_19413, F_20081, F_20126, F_20216]

# y-axis ranges and major tick steps for each panel
YRANGE_COL1 = [[-0.047, 0.148], [-0.1, 0.231], [-0.093, 1.107], [-0.053, 0.307], [-0.084, 0.777],
               [-0.077, 0.473], [-0.061, 0.85], [-0.062, 0.937], [-0.036, 0.173], [-0.033, 0.0426],
               [-0.052, 0.795]]
YRANGE_COL2 = [[-0.048, 0.271], [-0.061, 0.476], [-0.054, 0.38], [-0.049, 0.228], [-0.067, 0.2375],
               [-0.0585, 0.192], [-0.029, 0.153], [-0.04, 0.344], [-0.053, 0.188], [-0.028, 0.401],
               [-0.05, 0.795]]
YRANGE_COL3 = [[-0.044, 0.186], [-0.044, 0.366], [-0.035, 0.19], [-0.068, 0.545], [-0.047, 0.268],
               [-0.082, 0.891], [-0.063, 0.21], [-0.042, 0.362], [-0.051, 0.508], [-0.064, 0.744],
               [-0.053, 0.231]]
YDTICK_COL1 = [0.05, 0.1, 0.5, 0.1, 0.2, 0.2, 0.2, 0.5, 0.05, 0.02, 0.2]
YDTICK_COL2 = [0.1, 0.2, 0.1, 0.1, 0.1, 0.1, 0.05, 0.1, 0.1, 0.1, 0.2]
YDTICK_COL3 = [0.05, 0.1, 0.05, 0.2, 0.1, 0.2, 0.1, 0.1, 0.2, 0.2, 0.1]

COLUMNS = [
    (NAMES_COL1, HIST_COL1, FIT_COL1, YRANGE_COL1, YDTICK_COL1),
    (NAMES_COL2, HIST_COL2, FIT_COL2, YRANGE_COL2, YDTICK_COL2),
    (NAMES_COL3, HIST_COL3, FIT_COL3, YRANGE_COL3, YDTICK_COL3),
]

# ---------------- layout geometry (pixels) ----------------
W, H = 690, 984
COL_X = [(67.5, 255.5), (283.5, 471.5), (501.0, 689.0)]
TOP0 = 1.0
ROW_H = 85.2
NROW = 11
FONT = "Liberation Sans, Arial, Helvetica, sans-serif"

fig = go.Figure()
layout = dict(
    width=W, height=H,
    margin=dict(l=0, r=0, t=0, b=0),
    paper_bgcolor="white", plot_bgcolor="white",
    showlegend=False,
    font=dict(family=FONT, color="black", size=11),
)
annotations = []

for c, (names, hists, fits, yranges, ydticks) in enumerate(COLUMNS):
    x0, x1 = COL_X[c]
    for r in range(NROW):
        idx = c * NROW + r + 1
        xn = "x" if idx == 1 else f"x{idx}"
        yn = "y" if idx == 1 else f"y{idx}"
        hist = hists[r]
        fit = fits[r]
        assert len(hist) == len(CHANNELS), (names[r], len(hist))
        fig.add_trace(go.Scatter(
            x=CHANNELS, y=hist, mode="lines",
            line=dict(color="black", width=1.2, shape="hvh"),
            xaxis=xn, yaxis=yn, hoverinfo="skip"))
        if fit is not None:
            assert len(fit) == len(FIT_VEL), (names[r], len(fit))
            fig.add_trace(go.Scatter(
                x=FIT_VEL, y=fit, mode="lines",
                line=dict(color="#ff0000", width=1.2, shape="spline", smoothing=0.8),
                connectgaps=False,
                xaxis=xn, yaxis=yn, hoverinfo="skip"))

        top = TOP0 + r * ROW_H
        bot = top + ROW_H
        xkey = "xaxis" if idx == 1 else f"xaxis{idx}"
        ykey = "yaxis" if idx == 1 else f"yaxis{idx}"
        layout[xkey] = dict(
            domain=[x0 / W, x1 / W], anchor=yn, range=[-20, 20],
            showline=True, linecolor="black", linewidth=1.2, mirror="ticks",
            ticks="inside", ticklen=6, tickwidth=1, tickcolor="black",
            tickmode="linear", tick0=0, dtick=10,
            minor=dict(ticks="inside", ticklen=3, tickwidth=1, tickcolor="black", dtick=2, showgrid=False),
            showgrid=False, zeroline=False,
            showticklabels=(r == NROW - 1),
            tickfont=dict(size=11, family=FONT, color="black"),
            fixedrange=True,
        )
        layout[ykey] = dict(
            domain=[(H - bot) / H, (H - top) / H], anchor=xn, range=yranges[r],
            showline=True, linecolor="black", linewidth=1.2, mirror="ticks",
            ticks="inside", ticklen=6, tickwidth=1, tickcolor="black",
            tickmode="linear", tick0=0, dtick=ydticks[r],
            minor=dict(ticks="inside", ticklen=3, tickwidth=1, tickcolor="black", showgrid=False),
            showgrid=False, zeroline=False,
            tickangle=-90,
            tickfont=dict(size=11, family=FONT, color="black"),
            ticklabelstandoff=8,
            fixedrange=True,
        )
        annotations.append(dict(
            text=names[r], xref="paper", yref="paper",
            x=(x0 + 0.765 * (x1 - x0)) / W, y=(H - (top + 14)) / H,
            xanchor="center", yanchor="middle", showarrow=False,
            font=dict(size=12, family=FONT, color="black")))

    # x-axis title under each column
    annotations.append(dict(
        text="V\u00a0\u00a0\u2212\u00a0\u00a0V<sub>PEAK</sub>\u00a0\u00a0(km\u00a0\u00a0s<sup>\u22121</sup>)",
        xref="paper", yref="paper", x=((x0 + x1) / 2) / W, y=(H - 971) / H,
        xanchor="center", yanchor="middle", showarrow=False,
        font=dict(size=18, family=FONT, color="black")))

annotations.append(dict(
    text="T<sub>MB</sub>\u00a0\u00a0(K)", xref="paper", yref="paper",
    x=10 / W, y=(H - 895) / H, xanchor="center", yanchor="middle",
    textangle=-90, showarrow=False,
    font=dict(size=18, family=FONT, color="black")))

layout["annotations"] = annotations
fig.update_layout(**layout)

fig.write_html("out.html", config={"displayModeBar": False},
               post_script="document.body.style.margin='0';")
